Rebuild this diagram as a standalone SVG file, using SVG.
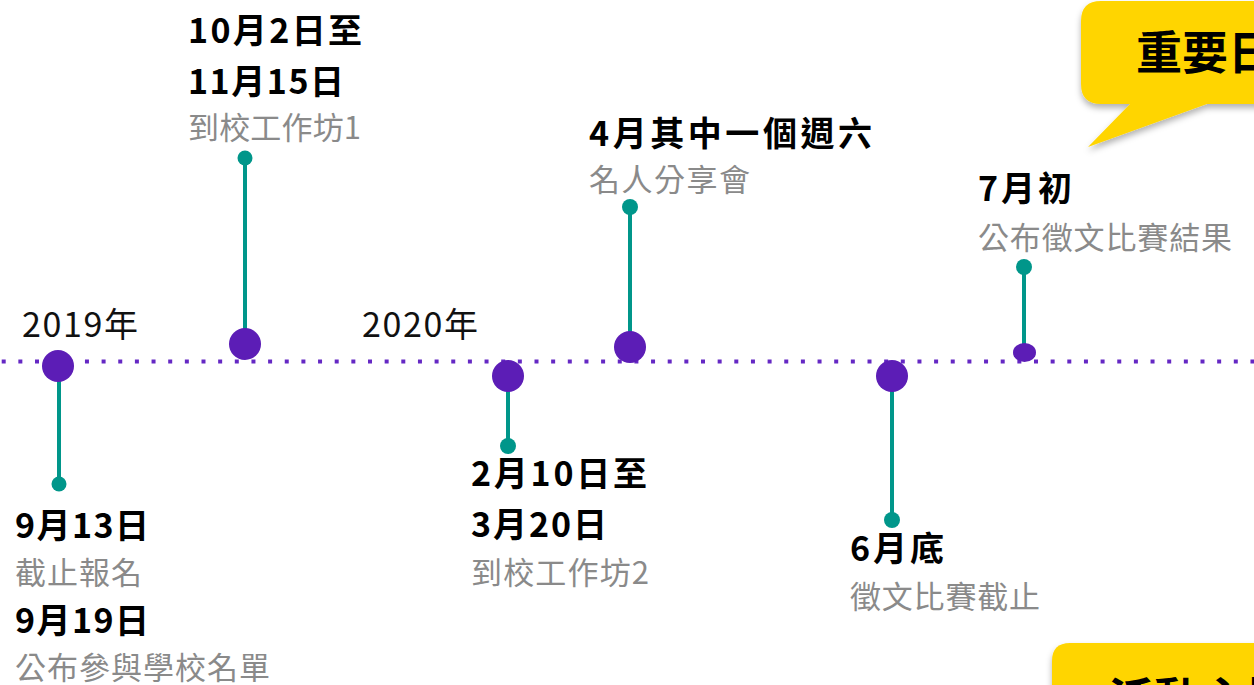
<svg xmlns="http://www.w3.org/2000/svg" width="1254" height="685" viewBox="0 0 1254 685">
<defs>
<style>
text{font-family:"Noto Sans CJK TC","Noto Sans CJK SC",sans-serif;}
.b{font-size:34px;font-weight:700;fill:#000;}
.g{font-size:31px;font-weight:400;fill:#8a8a8a;}
.y{font-size:34px;font-weight:400;fill:#111;}
.c{font-size:46px;font-weight:700;fill:#000;}
.stem{stroke:#00968a;stroke-width:4;fill:none;}
.tip{fill:#00968a;}
.hub{fill:#5c1db6;}
.call{fill:#ffd500;}
</style>
<filter id="sh" x="-20%" y="-20%" width="140%" height="160%">
<feDropShadow dx="0" dy="4" stdDeviation="3" flood-color="#000" flood-opacity="0.3"/>
</filter>
</defs>
<rect width="1254" height="685" fill="#fff"/>

<g id="connectors">
<line x1="1.7" y1="361.5" x2="1254" y2="361.5" stroke="#6528c4" stroke-width="4" stroke-dasharray="4 12.65"/>
<line class="stem" x1="59" y1="366" x2="59" y2="484"/>
<line class="stem" x1="245" y1="344" x2="245" y2="158"/>
<line class="stem" x1="508" y1="376" x2="508" y2="446"/>
<line class="stem" x1="630" y1="347" x2="630" y2="207"/>
<line class="stem" x1="892" y1="376" x2="892" y2="520"/>
<line class="stem" x1="1024" y1="352" x2="1024" y2="267"/>
</g>

<g id="year-2019"><text class="y" x="22" y="337" textLength="116" lengthAdjust="spacing">2019年</text></g>
<g id="year-2020"><text class="y" x="362" y="337" textLength="116" lengthAdjust="spacing">2020年</text></g>

<g id="node-sep">
<circle class="hub" cx="58" cy="366" r="16"/>
<circle class="tip" cx="59" cy="484" r="7.5"/>
<text class="b" x="15" y="538" textLength="134" lengthAdjust="spacing">9月13日</text>
<text class="g" x="15" y="584" textLength="127" lengthAdjust="spacing">截止報名</text>
<text class="b" x="15" y="633" textLength="134" lengthAdjust="spacing">9月19日</text>
<text class="g" x="15" y="679" textLength="255" lengthAdjust="spacing">公布參與學校名單</text>
</g>

<g id="node-oct">
<circle class="hub" cx="245" cy="344" r="16"/>
<circle class="tip" cx="245" cy="158" r="7.5"/>
<text class="b" x="188" y="43" textLength="174" lengthAdjust="spacing">10月2日至</text>
<text class="b" x="188" y="94" textLength="156" lengthAdjust="spacing">11月15日</text>
<text class="g" x="188" y="139" textLength="173" lengthAdjust="spacing">到校工作坊1</text>
</g>

<g id="node-feb">
<circle class="hub" cx="508" cy="376" r="16"/>
<circle class="tip" cx="508" cy="446" r="8"/>
<text class="b" x="471" y="486" textLength="176" lengthAdjust="spacing">2月10日至</text>
<text class="b" x="471" y="537" textLength="136" lengthAdjust="spacing">3月20日</text>
<text class="g" x="471" y="584" textLength="178" lengthAdjust="spacing">到校工作坊2</text>
</g>

<g id="node-apr">
<circle class="hub" cx="630" cy="347" r="16"/>
<circle class="tip" cx="630" cy="207" r="8"/>
<text class="b" x="589" y="146" textLength="283" lengthAdjust="spacing">4月其中一個週六</text>
<text class="g" x="589" y="191" textLength="161" lengthAdjust="spacing">名人分享會</text>
</g>

<g id="node-jun">
<circle class="hub" cx="892" cy="376" r="16"/>
<circle class="tip" cx="892" cy="520" r="8"/>
<text class="b" x="850" y="561" textLength="94" lengthAdjust="spacing">6月底</text>
<text class="g" x="850" y="608" textLength="190" lengthAdjust="spacing">徵文比賽截止</text>
</g>

<g id="node-jul">
<ellipse class="hub" cx="1024.5" cy="352.5" rx="11.5" ry="9.5"/>
<circle class="tip" cx="1024" cy="267" r="8"/>
<text class="b" x="978" y="201" textLength="94" lengthAdjust="spacing">7月初</text>
<text class="g" x="978" y="249" textLength="254" lengthAdjust="spacing">公布徵文比賽結果</text>
</g>

<g id="callout-top">
<path class="call" filter="url(#sh)" d="M1101,1 H1270 V104 H1207 L1088,147 L1130,104 H1101 Q1081,104 1081,84 V21 Q1081,1 1101,1 Z"/>
<text class="c" x="1136" y="69">重要日子</text>
</g>

<g id="callout-bottom">
<path class="call" filter="url(#sh)" d="M1070,643 H1270 V720 H1052 V661 Q1052,643 1070,643 Z"/>
<text class="c" x="1108" y="716">活動主旨</text>
</g>
</svg>
